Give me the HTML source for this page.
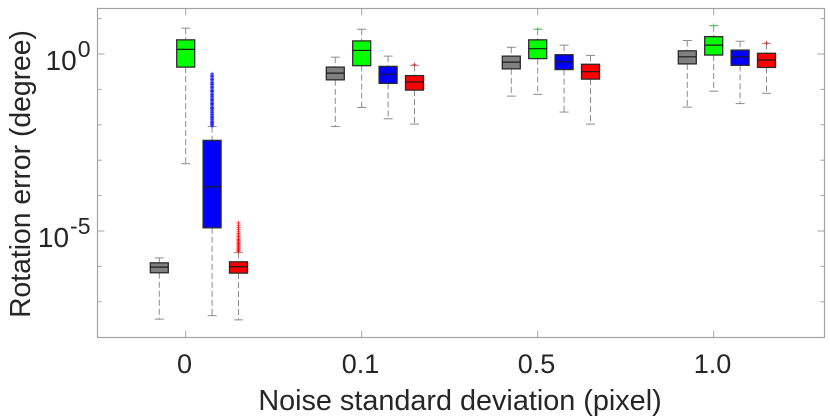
<!DOCTYPE html>
<html>
<head>
<meta charset="utf-8">
<style>
html,body{margin:0;padding:0;background:#fff;}
svg{display:block;font-family:"Liberation Sans",sans-serif;filter:blur(0.3px);}
text{fill:#262626;}
</style>
</head>
<body>
<svg id="chart" xmlns="http://www.w3.org/2000/svg" width="830" height="417" viewBox="0 0 830 417">
  <text x="460" y="410" font-size="28.8" text-anchor="middle">Noise standard deviation (pixel)</text>
  <text transform="translate(30,174) rotate(-90)" font-size="28.3" text-anchor="middle">Rotation error (degree)</text>
</svg>
<script>
// log10 of rotation error: each row is one noise level, [low whisker, q1, median, q3, high whisker]
const noiseLabels = ['0', '0.1', '0.5', '1.0'];
const yTickExponents = [1, 0, -1, -2, -3, -4, -5, -6, -7];
const yLabelledExponents = [0, -5];
const seriesNames = ['gray', 'green', 'blue', 'red'];
const seriesColors = ['#808080', '#00ff00', '#0000ff', '#ff0000'];
const grayBoxes = [[-7.49,-6.18,-6.02,-5.90,-5.76],[-2.05,-0.73,-0.54,-0.37,-0.09],[-1.19,-0.42,-0.23,-0.06,0.19],[-1.50,-0.28,-0.08,0.09,0.38]];
const greenBoxes = [[-3.10,-0.37,0.13,0.40,0.73],[-1.51,-0.33,0.10,0.37,0.70],[-1.14,-0.13,0.15,0.40,0.70],[-1.05,-0.03,0.25,0.49,0.80]];
const blueBoxes = [[-7.39,-4.91,-3.75,-2.44,-2.05],[-1.83,-0.83,-0.57,-0.35,-0.06],[-1.64,-0.44,-0.22,-0.02,0.25],[-1.40,-0.32,-0.08,0.11,0.36]];
const redBoxes = [[-7.51,-6.19,-6.01,-5.87,-5.61],[-1.98,-1.02,-0.79,-0.61,-0.32],[-1.98,-0.71,-0.50,-0.29,-0.04],[-1.11,-0.38,-0.17,0.02,0.30]];
const grayOutliers = [[],[],[],[]];
const greenOutliers = [[],[],[0.71],[0.81]];
const blueOutliers = [[-2.03,-2.00,-1.96,-1.93,-1.90,-1.86,-1.83,-1.79,-1.76,-1.72,-1.69,-1.65,-1.61,-1.58,-1.54,-1.51,-1.47,-1.43,-1.40,-1.36,-1.32,-1.29,-1.25,-1.21,-1.18,-1.14,-1.10,-1.06,-1.03,-0.99,-0.95,-0.91,-0.87,-0.84,-0.80,-0.76,-0.72,-0.68,-0.64,-0.60,-0.56],[],[],[]];
const redOutliers = [[-5.58,-5.55,-5.52,-5.49,-5.46,-5.43,-5.40,-5.37,-5.34,-5.31,-5.27,-5.24,-5.20,-5.16,-5.12,-5.07,-5.02,-4.96,-4.90,-4.84,-4.77],[-0.30],[],[0.31]];

const allBoxes = [grayBoxes, greenBoxes, blueBoxes, redBoxes];
const allOutliers = [grayOutliers, greenOutliers, blueOutliers, redOutliers];

const svg = document.getElementById('chart');
const NS = 'http://www.w3.org/2000/svg';
const plot = {left: 97.5, right: 824.5, top: 8.5, bottom: 337.5};
const axisColor = '#a3a3a3';

function yScale(logValue) { return 54 - 35.4 * logValue; }
function xGroup(groupIndex) { return 185.7 + 176 * groupIndex; }
function xBox(groupIndex, seriesIndex) { return xGroup(groupIndex) + 26.4 * (seriesIndex - 1); }

function make(tag, attrs) {
  const el = document.createElementNS(NS, tag);
  for (const k in attrs) el.setAttribute(k, attrs[k]);
  svg.appendChild(el);
  return el;
}
function seg(x1, y1, x2, y2, stroke, width, dash) {
  const el = make('line', {x1: x1, y1: y1, x2: x2, y2: y2, stroke: stroke, 'stroke-width': width});
  if (dash) el.setAttribute('stroke-dasharray', dash);
  return el;
}

// plot frame
const frame = make('rect', {x: plot.left, y: plot.top, width: plot.right - plot.left, height: plot.bottom - plot.top, fill: 'none', stroke: axisColor, 'stroke-width': 1.2});



// y ticks
yTickExponents.forEach(function (exp) {
  const major = yLabelledExponents.indexOf(exp) >= 0;
  const len = major ? 7 : 4;
  const y = yScale(exp);
  const leftTick = seg(plot.left, y, plot.left + len, y, axisColor, 1);
  
  
  const rightTick = seg(plot.right - len, y, plot.right, y, axisColor, 1);
  
  
  if (major) {
    // exponent is right-aligned at the label column; the base sits against it
    const sup = make('text', {x: 90.5, y: y + 2.8, 'font-size': 23, 'text-anchor': 'end'});
    sup.textContent = String(exp);
    
    
    const supWidth = sup.getComputedTextLength();
    const base = make('text', {x: 90.5 - supWidth - 1, y: y + 16, 'font-size': 28, 'text-anchor': 'end'});
    base.textContent = '10';
    
    
  }
});

// x ticks
noiseLabels.forEach(function (label, g) {
  const x = xGroup(g);
  const bottomTick = seg(x, plot.bottom - 7, x, plot.bottom, axisColor, 1);
  
  
  const topTick = seg(x, plot.top, x, plot.top + 7, axisColor, 1);
  
  
  const txt = make('text', {x: x - 1.2, y: 373, 'font-size': 27, 'text-anchor': 'middle'});
  txt.textContent = label;
  
  
});

// boxes
const boxHalf = 9;
const capHalf = 4.5;
const whiskerColor = '#8c8c8c';
allBoxes.forEach(function (rows, s) {
  rows.forEach(function (row, g) {
    const x = xBox(g, s);
    const low = yScale(row[0]), q1 = yScale(row[1]), med = yScale(row[2]), q3 = yScale(row[3]), high = yScale(row[4]);

    const upper = seg(x, high, x, q3, whiskerColor, 1, '6 3');
    
    
    const lower = seg(x, q1, x, low, whiskerColor, 1, '6 3');
    
    
    const capTop = seg(x - capHalf, high, x + capHalf, high, whiskerColor, 1);
    
    
    const capBottom = seg(x - capHalf, low, x + capHalf, low, whiskerColor, 1);
    
    

    const box = make('rect', {x: x - boxHalf, y: q3, width: boxHalf * 2, height: q1 - q3, fill: seriesColors[s], stroke: '#2b2b2b', 'stroke-width': 1.3});
    
    
    const median = seg(x - boxHalf, med, x + boxHalf, med, '#1a1a1a', 1.2);
    
    

    allOutliers[s][g].forEach(function (v) {
      const oy = yScale(v);
      const mark = make('path', {d: 'M' + (x - 2) + ' ' + oy + 'H' + (x + 2) + 'M' + x + ' ' + (oy - 2) + 'V' + (oy + 2), stroke: seriesColors[s], 'stroke-width': 1, 'stroke-opacity': 0.75, fill: 'none'});
      
      
    });
  });
});
</script>
</body>
</html>
